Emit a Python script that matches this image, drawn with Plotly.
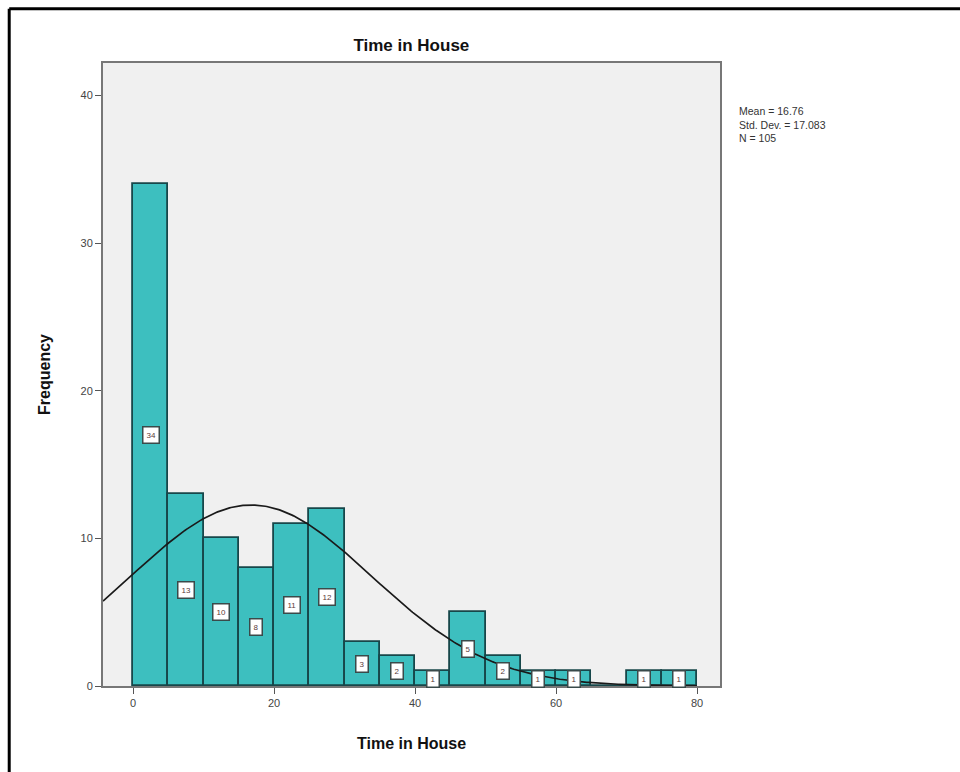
import numpy as np
import plotly.graph_objects as go

# Histogram bins (width 5) and their frequencies
bin_starts = [0, 5, 10, 15, 20, 25, 30, 35, 40, 45, 50, 55, 60, 65, 70, 75]
counts = [34, 13, 10, 8, 11, 12, 3, 2, 1, 5, 2, 1, 1, 0, 1, 1]
bin_width = 5

# Summary statistics shown beside the plot
mean_val = 16.76
std_val = 17.083
n_val = 105

x_ticks = [0, 20, 40, 60, 80]
y_ticks = [0, 10, 20, 30, 40]

x_range = [-4.26, 83.26]
y_range = [0, 42.2]

centers = [s + bin_width / 2 for s in bin_starts]

fig = go.Figure()

fig.add_trace(go.Bar(
    x=centers, y=counts, width=bin_width,
    marker=dict(color="#3dbfbf", line=dict(color="#17474a", width=1.8)),
    hoverinfo="skip", showlegend=False,
))

# Normal curve scaled to counts
xc = np.linspace(x_range[0], 80, 400)
yc = n_val * bin_width / (std_val * np.sqrt(2 * np.pi)) * np.exp(-0.5 * ((xc - mean_val) / std_val) ** 2)
fig.add_trace(go.Scatter(
    x=xc, y=yc, mode="lines",
    line=dict(color="#1a1a1a", width=1.7),
    hoverinfo="skip", showlegend=False,
))

# Count labels at half bar height
for c, v in zip(centers, counts):
    if v > 0:
        fig.add_annotation(
            x=c, y=v / 2, text=str(v), showarrow=False,
            font=dict(family="Liberation Sans, Arial, sans-serif", size=8, color="#5a3a3a"),
            bgcolor="white", bordercolor="#3a4a4a", borderwidth=1.5, borderpad=3,
        )

fig.add_annotation(
    xref="paper", yref="paper", x=1.028, y=0.935, xanchor="left", yanchor="top",
    text=f"Mean = {mean_val}<br>Std. Dev. = {std_val}<br>N = {n_val}",
    showarrow=False, align="left",
    font=dict(family="Liberation Sans, Arial, sans-serif", size=10.5, color="#333333"),
)

axis_font = dict(family="Liberation Sans, Arial, sans-serif", size=11, color="#444444")

fig.update_layout(
    width=960, height=772,
    margin=dict(l=103, r=240, t=63, b=86),
    paper_bgcolor="white",
    plot_bgcolor="#f0f0f0",
    bargap=0,
    title=dict(
        text="<b>Time in House</b>", x=0.4285, xanchor="center", y=0.942, yanchor="middle",
        font=dict(family="Liberation Sans, Arial, sans-serif", size=17, color="#111111"),
    ),
    xaxis=dict(
        range=x_range, tickvals=x_ticks, ticks="outside", ticklen=6, tickcolor="#555555",
        showgrid=False, zeroline=False, showline=True, linecolor="#777777", linewidth=2,
        mirror=True, tickfont=axis_font,
        title=dict(text="<b>Time in House</b>", standoff=30,
                   font=dict(family="Liberation Sans, Arial, sans-serif", size=16, color="#111111")),
    ),
    yaxis=dict(
        range=y_range, tickvals=y_ticks, ticks="outside", ticklen=6, tickcolor="#555555",
        showgrid=False, zeroline=False, showline=True, linecolor="#777777", linewidth=2,
        mirror=True, tickfont=axis_font,
        title=dict(text="<b>Frequency</b>", standoff=26,
                   font=dict(family="Liberation Sans, Arial, sans-serif", size=16, color="#111111")),
    ),
)

# Outer frame: top and left edges
fig.add_shape(type="line", xref="paper", yref="paper", x0=-0.152, x1=1.5, y0=1.0872, y1=1.0872,
              line=dict(color="black", width=3))
fig.add_shape(type="line", xref="paper", yref="paper", x0=-0.152, x1=-0.152, y0=-0.2, y1=1.0872,
              line=dict(color="black", width=3))

fig.write_html("out.html")
